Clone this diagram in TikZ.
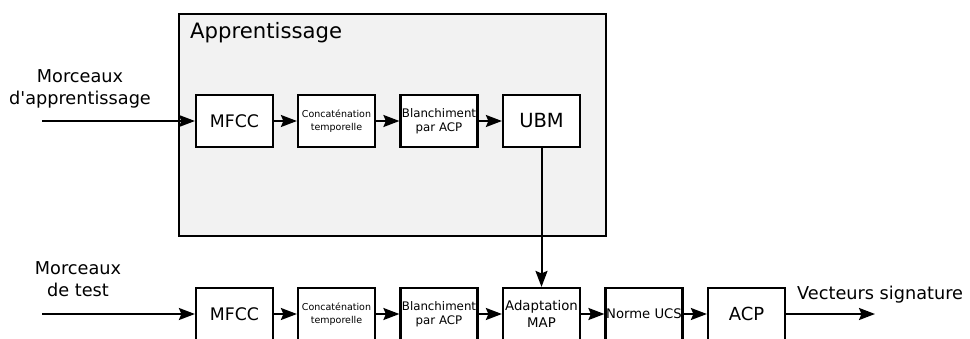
\documentclass[tikz,border=0pt]{standalone}
\usepackage{fontspec}
\newfontfamily\djv{DejaVu Sans}
\setmainfont{DejaVu Sans}
\usetikzlibrary{arrows.meta}
\newcommand\fz[2]{\djv\fontsize{#1}{#2}\selectfont}
\begin{document}
\begin{tikzpicture}[x=1pt,y=-1pt,
  blk/.style={draw=black,line width=2.2pt,fill=white,minimum width=77pt,minimum height=52pt,inner sep=0pt,align=center},
  conn/.style={line width=2pt,-{Stealth[length=16pt,width=12pt,inset=2.5pt]}},
  lbl/.style={inner sep=0pt,align=center,font=\fz{17.7}{22}}
]
\useasboundingbox (0,0) rectangle (970,338);
\node[draw=black,line width=1.8pt,fill=black!5,minimum width=427pt,minimum height=222pt,inner sep=0pt,anchor=north west] (app) at (178,13) {};
\node[anchor=west,inner sep=0pt,font=\fz{21.2}{26}] (apptitle) at (190,33) {Apprentissage};
% top row
\node[blk,font=\fz{17.3}{20}] (m1) at (234.5,121) {MFCC};
\node[blk,font=\fz{9.5}{12.5}] (c1) at (336.5,121) {Concaténation\\temporelle};
\node[blk,font=\fz{11.8}{14.5}] (b1) at (439,121) {Blanchiment\\par ACP};
\node[blk,font=\fz{19.5}{20}] (ubm) at (541.5,121) {UBM};
% bottom row
\node[blk,font=\fz{17.3}{20}] (m2) at (234.5,314) {MFCC};
\node[blk,font=\fz{9.5}{12.5}] (c2) at (336.5,314) {Concaténation\\temporelle};
\node[blk,font=\fz{11.8}{14.5}] (b2) at (439,314) {Blanchiment\\par ACP};
\node[blk,font=\fz{13.3}{17}] (map) at (541.5,314) {Adaptation\\MAP};
\node[blk,font=\fz{13.2}{16}] (ucs) at (644,314) {Norme UCS};
\node[blk,font=\fz{18}{20}] (acp) at (746.5,314) {ACP};
% labels
\node[lbl] (in1lbl) at (80,89) {Morceaux\\d'apprentissage};
\node[lbl] (in2lbl) at (78,279) {Morceaux\\de test};
\node[lbl,anchor=west] (outlbl) at (797,295) {Vecteurs signature};
\coordinate (in1) at (42,121);
\coordinate (in2) at (42,314);
\coordinate (out) at (875,314);
% connectors
\draw[conn] (in1) -- (m1);
\draw[conn] (m1) -- (c1);
\draw[conn] (c1) -- (b1);
\draw[conn] (b1) -- (ubm);
\draw[conn] (ubm) -- (map);
\draw[conn] (in2) -- (m2);
\draw[conn] (m2) -- (c2);
\draw[conn] (c2) -- (b2);
\draw[conn] (b2) -- (map);
\draw[conn] (map) -- (ucs);
\draw[conn] (ucs) -- (acp);
\draw[conn] (acp) -- (out);
\end{tikzpicture}
\end{document}
